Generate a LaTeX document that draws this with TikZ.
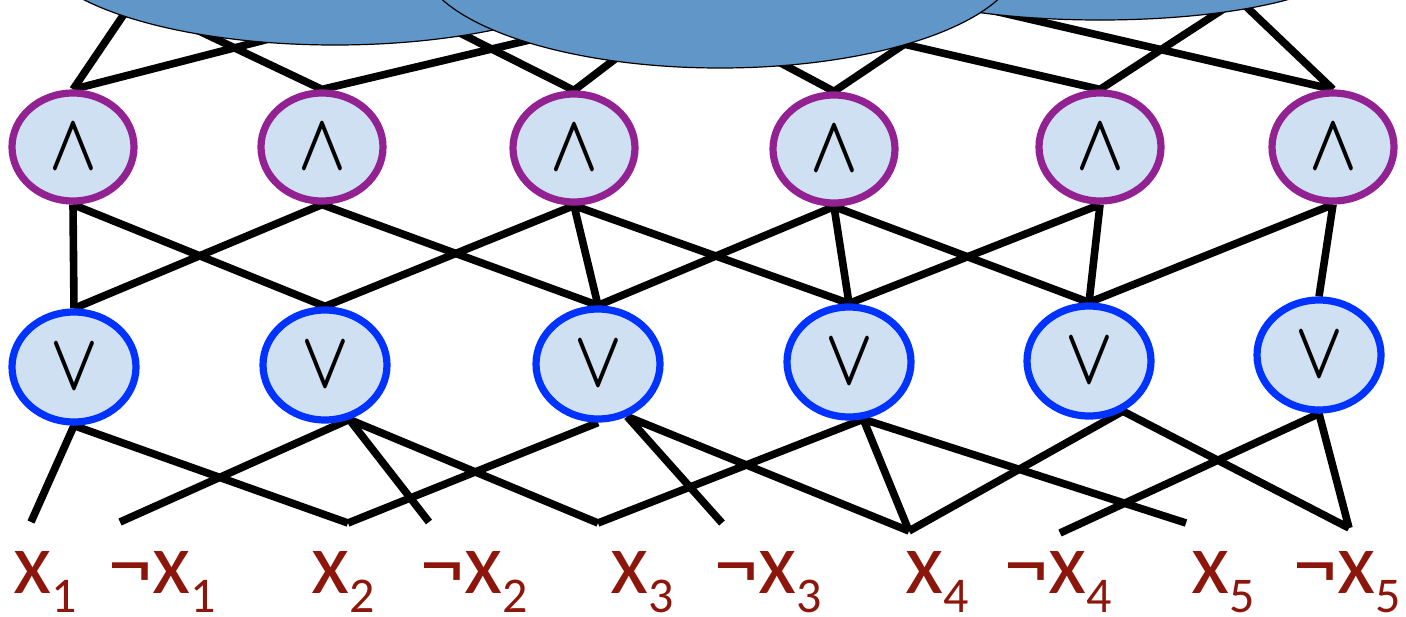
\RequirePackage{fix-cm}
\documentclass[tikz,border=0pt]{standalone}
\usepackage{amsmath}
\usepackage{fontspec}
\setmainfont{Carlito}
\usetikzlibrary{shapes.geometric,backgrounds}
\definecolor{andrim}{RGB}{146,34,146}
\definecolor{orrim}{RGB}{0,51,255}
\definecolor{gatefill}{RGB}{206,224,242}
\definecolor{clausefill}{RGB}{96,150,200}
\definecolor{litred}{RGB}{140,22,12}
\newcommand{\lit}[1]{x\raisebox{-9.5pt}[\height][0pt]{\fontsize{25}{25}\selectfont #1}}
\newcommand{\nlit}[1]{¬\lit{#1}}
\newcommand{\andsym}{\scalebox{0.78}[1]{$\boldsymbol{\wedge}$}}
\newcommand{\orsym}{\scalebox{0.78}[1]{$\boldsymbol{\vee}$}}

\begin{document}
\begin{tikzpicture}[
    x=0.5pt, y=-0.5pt,
    gate/.style={ellipse, line width=3.6pt, fill=gatefill, inner sep=0pt,
                 font=\fontsize{40}{40}\selectfont},
    andgate/.style={gate, draw=andrim, minimum width=61pt, minimum height=54pt},
    orgate/.style ={gate, draw=orrim,  minimum width=62pt, minimum height=55pt},
    clause/.style ={ellipse, draw=black, line width=0.6pt, fill=clausefill,
                    inner sep=0pt},
    lit/.style    ={font=\fontsize{44}{48}\selectfont, text=litred,
                    anchor=base west, inner sep=0pt},
    wire/.style   ={line width=3.8pt}
]
\useasboundingbox (0,0) rectangle (1406,616);
% --- AND row -----------------------------------------------------------
\node[andgate] (a1) at (73,147)   {\andsym};
\node[andgate] (a2) at (322,147)  {\andsym};
\node[andgate] (a3) at (574,148)  {\andsym};
\node[andgate] (a4) at (834,149)  {\andsym};
\node[andgate] (a5) at (1100,147) {\andsym};
\node[andgate] (a6) at (1333,147) {\andsym};
% --- OR row ------------------------------------------------------------
\node[orgate] (o1) at (74,367)   {\orsym};
\node[orgate] (o2) at (325,365)  {\orsym};
\node[orgate] (o3) at (598,364)  {\orsym};
\node[orgate] (o4) at (849,362)  {\orsym};
\node[orgate] (o5) at (1089,361) {\orsym};
\node[orgate] (o6) at (1319,355) {\orsym};
% --- literal ends --------------------------------------------------------
\coordinate (l1)  at (31,522);
\coordinate (l2)  at (120,522);
\coordinate (l3)  at (348,523);
\coordinate (l4)  at (429,522);
\coordinate (l5)  at (598,523);
\coordinate (l6)  at (722,523);
\coordinate (l7)  at (909,531);
\coordinate (l8)  at (1186,523);
\coordinate (l9)  at (1060,533);
\coordinate (l10) at (1349,528);
% --- ends hidden under the clauses ----------------------------------------
\coordinate (c1)  at (137,-5);
\coordinate (c2)  at (300,31);
\coordinate (c3)  at (180,22);
\coordinate (c4)  at (580,28);
\coordinate (c5)  at (430,18);
\coordinate (c6)  at (640,40);
\coordinate (c7)  at (760,52);
\coordinate (c8)  at (930,27);
\coordinate (c9)  at (860,34);
\coordinate (c10) at (1245,-5);
\coordinate (c11) at (1234,-5);
\coordinate (c12) at (990,10);
% --- clauses (cut off by the top edge) ------------------------------------
\node[clause, minimum width=300pt, minimum height=100pt] (e1) at (335,-55) {};
\node[clause, minimum width=250pt, minimum height=60pt]  (e3) at (1100,-40) {};
\node[clause, minimum width=300pt, minimum height=110pt] (e2) at (720,-42) {};
% --- literals ------------------------------------------------------------
\node[lit] (x1)  at (13,593)   {\lit{1}};
\node[lit] (nx1) at (108,593)  {\nlit{1}};
\node[lit] (x2)  at (311,593)  {\lit{2}};
\node[lit] (nx2) at (420,593)  {\nlit{2}};
\node[lit] (x3)  at (610,593)  {\lit{3}};
\node[lit] (nx3) at (714,593)  {\nlit{3}};
\node[lit] (x4)  at (905,593)  {\lit{4}};
\node[lit] (nx4) at (1004,593) {\nlit{4}};
\node[lit] (x5)  at (1191,593) {\lit{5}};
\node[lit] (nx5) at (1293,593) {\nlit{5}};
% --- wires ---------------------------------------------------------------
\begin{scope}[on background layer]
    % AND -> clauses
    \draw[wire] (a1.north) -- (c1)  (a1.north) -- (c2);
    \draw[wire] (a2.north) -- (c3)  (a2.north) -- (c4);
    \draw[wire] (a3.north) -- (c5)  (a3.north) -- (c6);
    \draw[wire] (a4.north) -- (c7)  (a4.north) -- (c8);
    \draw[wire] (a5.north) -- (c9)  (a5.north) -- (c10);
    \draw[wire] (a6.north) -- (c11) (a6.north) -- (c12);
    % OR -> AND
    \draw[wire] (a1.south) -- (o1.north) (a1.south) -- (o2.north);
    \draw[wire] (a2.south) -- (o1.north) (a2.south) -- (o3.north);
    \draw[wire] (a3.south) -- (o2.north) (a3.south) -- (o3.north)
                (a3.south) -- (o4.north);
    \draw[wire] (a4.south) -- (o3.north) (a4.south) -- (o4.north)
                (a4.south) -- (o5.north);
    \draw[wire] (a5.south) -- (o4.north) (a5.south) -- (o5.north);
    \draw[wire] (a6.south) -- (o5.north) (a6.south) -- (o6.north);
    % literals -> OR
    \draw[wire] (o1.south) -- (l1)  (o1.south) -- (l3);
    \draw[wire] (o2.-66) -- (l2) (o2.-66) -- (l4) (o2.-66) -- (l5);
    \draw[wire] (o3.south) -- (l3)  (o3.-61) -- (l6) (o3.-61) -- (l7);
    \draw[wire] (o4.-76) -- (l5) (o4.-76) -- (l7) (o4.-76) -- (l8);
    \draw[wire] (o5.-56) -- (l7) (o5.-56) -- (l10);
    \draw[wire] (o6.south) -- (l9)  (o6.south) -- (l10);
\end{scope}
\end{tikzpicture}
\end{document}
